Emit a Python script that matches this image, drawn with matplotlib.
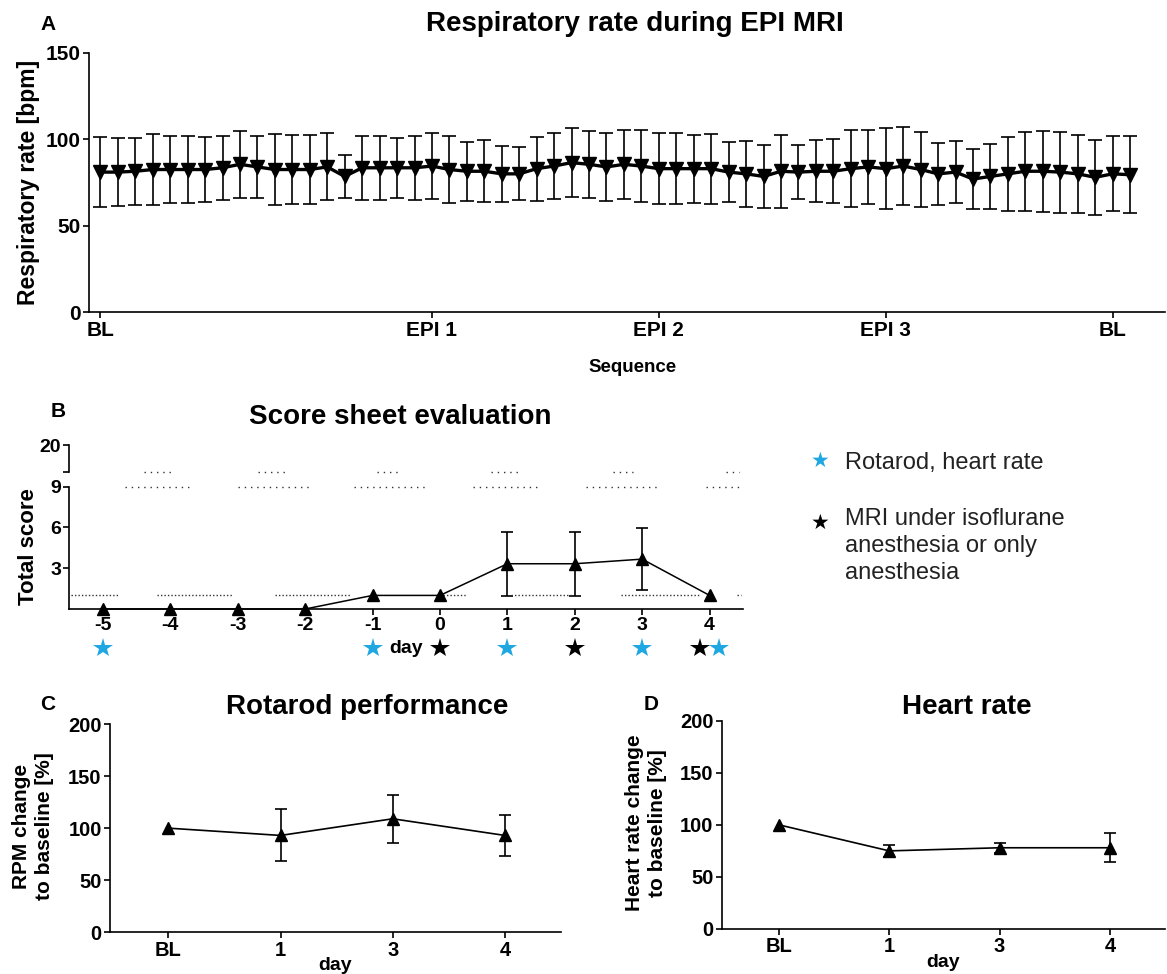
import numpy as np
import matplotlib
matplotlib.use('Agg')
import matplotlib.pyplot as plt

# Panel A: respiratory rate during the EPI MRI session (mean, SD)
resp_mean = [81, 81, 81.5, 82.5, 82.5, 82.5, 82.5, 83.5, 85.5, 84,
             82.5, 82.5, 82.5, 84, 78.5, 83.5, 83.5, 83.5, 83.5, 84.5,
             82.5, 81.5, 81.5, 80, 80, 83, 84.5, 86.5, 85.5, 84,
             85.5, 84.5, 83, 83, 83, 83, 81, 80, 78.5, 81.5,
             81, 81.5, 81.5, 83, 84, 83, 84.5, 82.5, 80, 81,
             77, 78.5, 80, 81.5, 81.5, 81, 80, 78, 80, 79.5]
resp_sd = [20.4, 19.5, 19.5, 20.4, 19.2, 19.2, 19, 18.5, 19.3, 17.8,
           20.4, 19.8, 19.8, 19.4, 12.5, 18.5, 18.5, 17.5, 18.5, 19,
           19.4, 17, 18, 16, 15.4, 18.5, 19, 19.8, 19.4, 19.8,
           19.8, 20.7, 20.6, 20.6, 19.7, 20.2, 17.5, 19, 18, 21.2,
           15.4, 17.8, 18.5, 22.2, 21.6, 23.6, 22.7, 21.7, 17.8, 17.9,
           17.5, 18.8, 21.2, 22.7, 23.4, 23.4, 22.5, 21.7, 21.7, 22.2]
seq_tick_idx = [0, 19, 32, 45, 58]
seq_tick_labels = ['BL', 'EPI 1', 'EPI 2', 'EPI 3', 'BL']

# Panel B: score sheet evaluation
score_days = [-5, -4, -3, -2, -1, 0, 1, 2, 3, 4]
score_mean = [0, 0, 0, 0, 1, 1, 3.33, 3.33, 3.67, 1]
score_sd = [0, 0, 0, 0, 0, 0, 2.35, 2.35, 2.3, 0]
rotarod_hr_days = [-5, -1, 1, 3, 4]
mri_days = [0, 2, 4]

# Panels C and D: change to baseline
followup_labels = ['BL', '1', '3', '4']
rpm_mean = [100, 93, 109, 93]
rpm_sd = [0, 25, 23, 20]
hr_mean = [100, 75, 78, 78]
hr_sd = [0, 6, 5, 14]

# dotted break/threshold lines of panel B (day ranges)
dots_level1 = [(-5.47, -4.77), (-4.2, -3.07), (-2.45, -1.33), (0.05, 0.4),
               (1.05, 1.95), (2.68, 3.84), (4.41, 4.47)]
dots_level9 = [(-4.68, -3.69), (-3.0, -1.9), (-1.28, -0.22), (0.49, 1.45),
               (2.17, 3.25), (3.94, 4.43)]
dots_level10 = [(-4.39, -3.97), (-2.7, -2.3), (-0.93, -0.59), (0.76, 1.18),
                (2.56, 2.86), (4.24, 4.43)]

BLUE = '#1ea7e1'
W, H = 1167, 974
plt.rcParams['font.family'] = ['Liberation Sans', 'DejaVu Sans']
plt.rcParams['axes.unicode_minus'] = False


def px_box(left, top, right, bottom):
    return [left / W, 1 - bottom / H, (right - left) / W, (bottom - top) / H]


def prism_axes(ax, tick_size):
    for side in ['top', 'right']:
        ax.spines[side].set_visible(False)
    for side in ['left', 'bottom']:
        ax.spines[side].set_linewidth(1.2)
    ax.tick_params(direction='out', length=4, width=1.2, labelsize=tick_size, pad=2)
    for lab in ax.get_xticklabels() + ax.get_yticklabels():
        lab.set_fontweight('bold')


fig = plt.figure(figsize=(W / 100, H / 100), dpi=100)

# ---------- A ----------
axA = fig.add_axes(px_box(89, 52.7, 1165, 312.3))
x = np.arange(len(resp_mean))
axA.errorbar(x, resp_mean, yerr=resp_sd, fmt='-v', color='black', lw=2.4,
             ms=9.5, capsize=5, elinewidth=1.2, capthick=1.2)
axA.set_xlim(-0.65, 61)
axA.set_ylim(0, 150)
axA.set_yticks([0, 50, 100, 150])
axA.set_xticks(seq_tick_idx)
axA.set_xticklabels(seq_tick_labels)
prism_axes(axA, 15)
axA.set_ylabel('Respiratory rate [bpm]', fontsize=16.5, fontweight='bold')
axA.yaxis.set_label_coords(-0.056, 0.5)
axA.yaxis.label.set_va('center')
fig.text(633 / W, 1 - 367 / H, 'Sequence', fontsize=13.5, fontweight='bold',
         ha='center', va='center')
fig.text(635 / W, 1 - 24 / H, 'Respiratory rate during EPI MRI', fontsize=20,
         fontweight='bold', ha='center', va='center')
fig.text(48 / W, 1 - 25 / H, 'A', fontsize=15, fontweight='bold',
         ha='center', va='center')

# ---------- B (broken y axis) ----------
axB = fig.add_axes(px_box(69.3, 486.7, 743.3, 609))
axBt = fig.add_axes(px_box(69.3, 445, 743.3, 471.7), sharex=axB)
axB.plot(score_days, score_mean, '-^', color='black', lw=1.1, ms=8.5, clip_on=False, zorder=4)
err = [i for i, s in enumerate(score_sd) if s > 0]
axB.errorbar([score_days[i] for i in err], [score_mean[i] for i in err],
             yerr=[score_sd[i] for i in err], fmt='none', ecolor='black',
             elinewidth=1.2, capsize=4, capthick=1.2)
axB.set_xlim(-5.5, 4.5)
axB.set_ylim(0, 9)
axB.set_yticks([3, 6, 9])
axB.set_xticks(score_days)
prism_axes(axB, 14)

axBt.set_ylim(10, 20)
axBt.set_yticks([10, 20])
axBt.set_yticklabels(['', '20'])
for side in ['top', 'right', 'bottom']:
    axBt.spines[side].set_visible(False)
axBt.spines['left'].set_linewidth(1.2)
axBt.tick_params(axis='x', bottom=False, labelbottom=False)
axBt.tick_params(axis='y', direction='out', length=4, width=1.2, labelsize=14, pad=2)
for lab in axBt.get_yticklabels():
    lab.set_fontweight('bold')
axBt.patch.set_alpha(0)

for x0, x1 in dots_level1:
    axB.plot([x0, x1], [1, 1], color='#333333', lw=1.0, ls=(0, (1, 1.5)), clip_on=False)
for x0, x1 in dots_level9:
    axB.plot([x0, x1], [9, 9], color='#333333', lw=1.0, ls=(0, (1, 3.5)), clip_on=False)
for x0, x1 in dots_level10:
    axBt.plot([x0, x1], [10, 10], color='#333333', lw=1.0, ls=(0, (1, 3.5)), clip_on=False)

# event stars below the day axis
star_y = -0.32
blue_x = [d + (0.14 if d in mri_days else 0) for d in rotarod_hr_days]
black_x = [d - (0.14 if d in rotarod_hr_days else 0) for d in mri_days]
axB.plot(blue_x, [star_y] * len(blue_x), '*', color=BLUE, ms=15, mew=0,
         transform=axB.get_xaxis_transform(), clip_on=False)
axB.plot(black_x, [star_y] * len(black_x), '*', color='black', ms=15, mew=0,
         transform=axB.get_xaxis_transform(), clip_on=False)
axB.text(0.5, star_y, 'day', transform=axB.transAxes, fontsize=14,
         fontweight='bold', ha='center', va='center')

fig.text(28 / W, 1 - 547 / H, 'Total score', rotation=90, fontsize=16,
         fontweight='bold', ha='center', va='center')
fig.text(400 / W, 1 - 417 / H, 'Score sheet evaluation', fontsize=20,
         fontweight='bold', ha='center', va='center')
fig.text(58 / W, 1 - 411 / H, 'B', fontsize=15, fontweight='bold',
         ha='center', va='center')

# legend for the stars
fig.text(820 / W, 1 - 461 / H, '\u2605', color=BLUE, fontsize=15,
         family=['DejaVu Sans'], ha='center', va='center')
fig.text(820 / W, 1 - 523 / H, '\u2605', color='black', fontsize=15,
         family=['DejaVu Sans'], ha='center', va='center')
fig.text(845 / W, 1 - 463 / H, 'Rotarod, heart rate', fontsize=17,
         color='#222222', ha='left', va='center')
fig.text(845 / W, 1 - 508 / H, 'MRI under isoflurane\nanesthesia or only\nanesthesia',
         fontsize=17, color='#222222', ha='left', va='top', linespacing=1.3)

# ---------- C and D ----------
def followup_panel(box, mean, sd, ylabel, title, letter, title_x, letter_x):
    ax = fig.add_axes(px_box(*box))
    xs = np.arange(len(mean))
    ax.plot(xs, mean, '-^', color='black', lw=1.2, ms=8.5, zorder=4)
    ax.errorbar(xs[1:], mean[1:], yerr=sd[1:], fmt='none', ecolor='black',
                elinewidth=1.2, capsize=4, capthick=1.2)
    ax.set_xlim(-0.52, 3.5)
    ax.set_ylim(0, 200)
    ax.set_yticks([0, 50, 100, 150, 200])
    ax.set_xticks(xs)
    ax.set_xticklabels(followup_labels)
    prism_axes(ax, 14.5)
    ax.set_ylabel(ylabel, fontsize=15, fontweight='bold', linespacing=1.25)
    ax.yaxis.set_label_coords(-0.17, 0.51)
    ax.yaxis.label.set_va('center')
    ax.text(0.5, -0.16, 'day', transform=ax.transAxes, fontsize=14,
            fontweight='bold', ha='center', va='center')
    fig.text(title_x / W, 1 - 707 / H, title, fontsize=20, fontweight='bold',
             ha='center', va='center')
    fig.text(letter_x / W, 1 - 705 / H, letter, fontsize=15, fontweight='bold',
             ha='center', va='center')
    return ax


followup_panel((110, 724, 561, 932.3), rpm_mean, rpm_sd,
               'RPM change\nto baseline [%]', 'Rotarod performance', 'C', 367, 48)
followup_panel((721.6, 720.7, 1165, 929), hr_mean, hr_sd,
               'Heart rate change\nto baseline [%]', 'Heart rate', 'D', 967, 651)

fig.savefig('out.png', dpi=100)
